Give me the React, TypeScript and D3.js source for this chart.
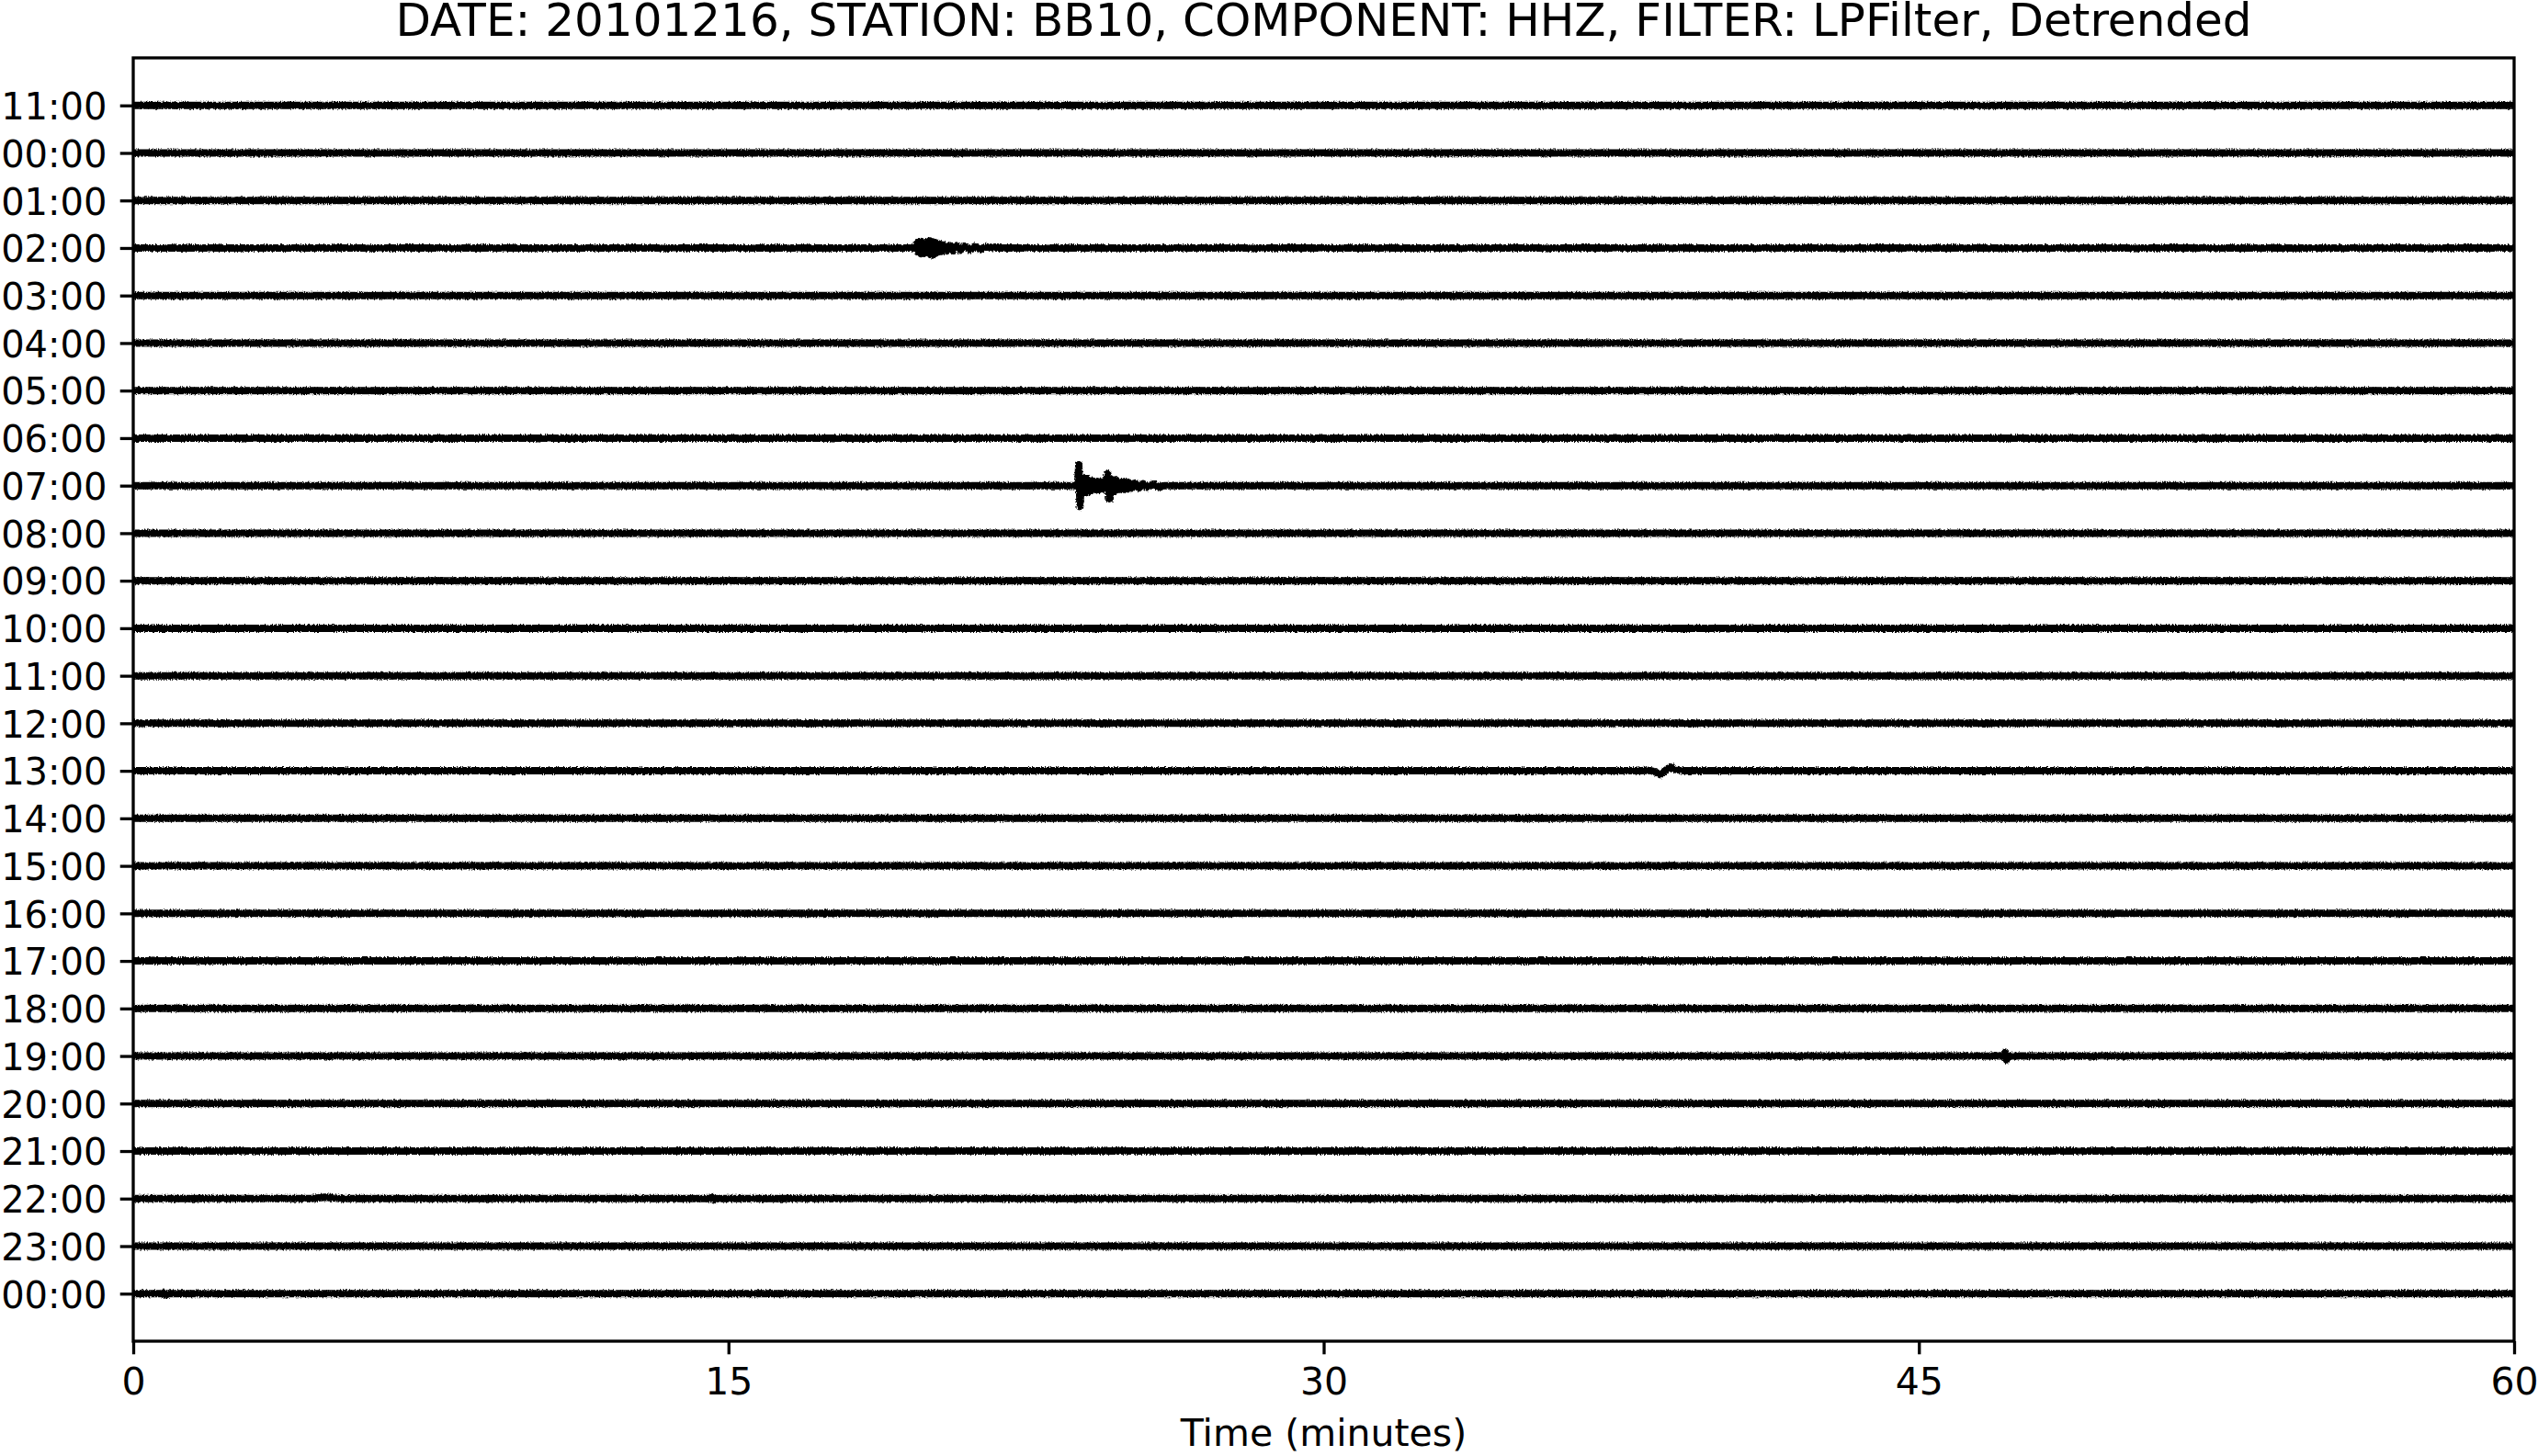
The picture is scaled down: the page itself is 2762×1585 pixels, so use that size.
import React, { useEffect, useRef } from 'react'
import { select, scaleLinear, line, axisLeft, axisBottom } from 'd3'

const WIDTH = 2762
const HEIGHT = 1585
const margin = { top: 63, right: 26, bottom: 125, left: 145 }

const title = 'DATE: 20101216, STATION: BB10, COMPONENT: HHZ, FILTER: LPFilter, Detrended'
const xLabel = 'Time (minutes)'

// one trace per hour, top to bottom
const hourLabels = [
    '11:00', '00:00', '01:00', '02:00', '03:00', '04:00', '05:00', '06:00', '07:00',
    '08:00', '09:00', '10:00', '11:00', '12:00', '13:00', '14:00', '15:00', '16:00',
    '17:00', '18:00', '19:00', '20:00', '21:00', '22:00', '23:00', '00:00',
]
const minuteTicks = [0, 15, 30, 45, 60]

// events as [minute, amplitude], amplitude in fractions of the trace spacing (up is positive)
const quake0200 = [
    [19.74, 0], [19.77, 0.12], [19.8, -0.1], [19.83, 0.14], [19.86, -0.12], [19.89, 0.13],
    [19.92, -0.11], [19.95, 0.1], [19.98, -0.08], [20.01, 0.07], [20.04, -0.1], [20.07, 0.15],
    [20.1, -0.14], [20.13, 0.13], [20.16, -0.15], [20.19, 0.12], [20.22, -0.11], [20.26, 0.1],
    [20.3, -0.08], [20.34, 0.08], [20.38, -0.07], [20.43, 0.06], [20.5, -0.06], [20.58, 0.05],
    [20.66, -0.055], [20.75, 0.05], [20.85, -0.045], [20.95, 0.04], [21.08, -0.035], [21.2, 0.03],
    [21.35, -0.03], [21.5, 0.025], [21.75, 0],
]
const quake0700 = [
    [23.8, 0], [23.83, 0.44], [23.86, -0.44], [23.89, 0.12], [23.92, -0.16], [23.96, 0.17],
    [24.0, -0.15], [24.04, 0.16], [24.08, -0.13], [24.12, 0.12], [24.16, -0.1], [24.2, 0.09],
    [24.25, -0.08], [24.3, 0.09], [24.35, -0.08], [24.4, 0.08], [24.45, -0.07], [24.5, 0.06],
    [24.56, 0.25], [24.6, -0.28], [24.64, 0.14], [24.68, -0.13], [24.72, 0.12], [24.76, -0.11],
    [24.8, 0.1], [24.85, -0.08], [24.9, 0.07], [24.95, -0.08], [25.0, 0.09], [25.05, -0.07],
    [25.1, 0.06], [25.17, -0.05], [25.25, 0.05], [25.35, -0.045], [25.45, 0.04], [25.55, -0.035],
    [25.7, 0.03], [25.85, -0.025], [26.0, 0],
]
const wiggle1300 = [
    [38.0, 0], [38.2, 0.01], [38.35, -0.02], [38.48, -0.08], [38.6, 0.0], [38.74, 0.08],
    [38.85, 0.03], [38.95, 0.02], [39.1, 0],
]
const spike1900 = [[47.14, 0], [47.18, 0.08], [47.21, -0.08], [47.25, 0]]
const bumps2200 = [[4.5, 0], [4.84, 0.03], [5.2, 0], [14.5, 0], [14.58, 0.03], [14.64, -0.03], [14.7, 0]]
const bump0000 = [[0.7, 0], [0.76, 0.03], [0.82, -0.03], [0.88, 0]]

const eventsByRow: Record<number, number[][]> = {
    3: quake0200,
    8: quake0700,
    14: wiggle1300,
    20: spike1900,
    23: bumps2200,
    25: bump0000,
}

const FONT = 'DejaVu Sans, sans-serif'

const App = () => {
    const svgRef = useRef<SVGSVGElement>(null)

    useEffect(() => {
        const svg = select(svgRef.current)
        const innerW = WIDTH - margin.left - margin.right
        const innerH = HEIGHT - margin.top - margin.bottom

        const xScale = scaleLinear().domain([0, 60]).range([0, innerW])
        // rows run from the top, one spare row above and below
        const yScale = scaleLinear().domain([-1, hourLabels.length]).range([0, innerH])

        const g = svg.select('.plot').attr('transform', `translate(${margin.left},${margin.top})`)

        const traces = hourLabels.map((label, row) => {
            const ev = eventsByRow[row] || []
            return { row, points: [[0, 0], ...ev, [60, 0]] }
        })

        const trace = (row: number) =>
            line<number[]>()
                .x(d => xScale(d[0]))
                .y(d => yScale(row) - d[1] * (yScale(1) - yScale(0)))

        g.select('.traces')
            .selectAll('path')
            .data(traces)
            .join('path')
            .attr('d', d => trace(d.row)(d.points))
            .attr('fill', 'none')
            .attr('stroke', '#000')
            .attr('stroke-width', 8)
            .attr('stroke-linejoin', 'round')
            .attr('stroke-linecap', 'butt')

        const yAxis = axisLeft(yScale)
            .tickValues(hourLabels.map((_, i) => i))
            .tickFormat((i: any) => hourLabels[i])
            .tickSize(14.3)
            .tickPadding(14.3)
        const ya = g.select('.y-axis').call(yAxis as any)
        ya.select('.domain').remove()
        ya.selectAll('line').attr('stroke-width', 3.3)
        ya.selectAll('text')
            .attr('font-size', 40)
            .attr('font-family', FONT)
            .attr('fill', '#000')
            .attr('dy', '0.37em')

        const xAxis = axisBottom(xScale).tickValues(minuteTicks).tickSize(14.3).tickPadding(14.3)
        const xa = g.select('.x-axis').attr('transform', `translate(0,${innerH})`).call(xAxis as any)
        xa.select('.domain').remove()
        xa.selectAll('line').attr('stroke-width', 3.3)
        xa.selectAll('text')
            .attr('font-size', 41)
            .attr('font-family', FONT)
            .attr('fill', '#000')

        g.select('.frame')
            .attr('x', 0)
            .attr('y', 0)
            .attr('width', innerW)
            .attr('height', innerH)
            .attr('fill', 'none')
            .attr('stroke', '#000')
            .attr('stroke-width', 3.3)

        svg.select('.title')
            .attr('x', margin.left + innerW / 2)
            .attr('y', 39)
            .text(title)
        svg.select('.xlabel')
            .attr('x', margin.left + innerW / 2)
            .attr('y', 1574)
            .text(xLabel)
    }, [])

    return (
        <svg
            ref={svgRef}
            width={WIDTH}
            height={HEIGHT}
            style={{ position: 'absolute', left: 0, top: 0, background: '#fff' }}
        >
            <defs>
                <filter id="rough" filterUnits="userSpaceOnUse" x="0" y="0" width={WIDTH} height={HEIGHT}>
                    <feTurbulence type="fractalNoise" baseFrequency="0.8 0.4" numOctaves="2" seed="7" result="n" />
                    <feDisplacementMap in="SourceGraphic" in2="n" scale="4" xChannelSelector="R" yChannelSelector="G" />
                </filter>
            </defs>
            <rect width={WIDTH} height={HEIGHT} fill="#fff" />
            <g className="plot">
                <g className="traces" filter="url(#rough)" />
                <rect className="frame" />
                <g className="y-axis" />
                <g className="x-axis" />
            </g>
            <text className="title" textAnchor="middle" fontSize={50} fontFamily={FONT} fill="#000" />
            <text className="xlabel" textAnchor="middle" fontSize={41} fontFamily={FONT} fill="#000" />
        </svg>
    )
}

export default App
